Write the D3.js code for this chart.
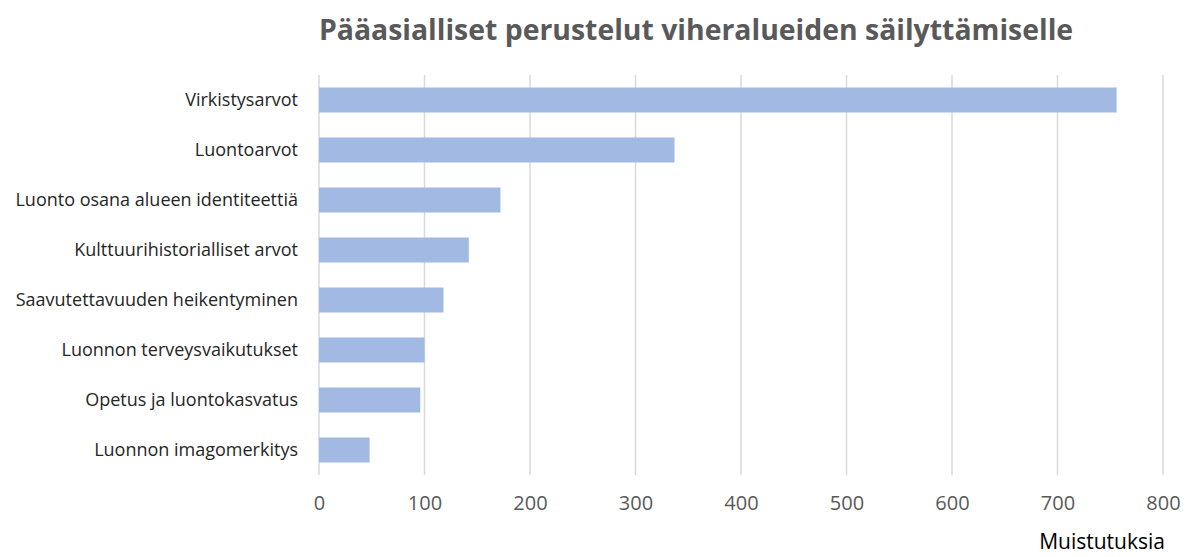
<!DOCTYPE html>
<html lang="fi">
<head>
    <meta charset="utf-8">
    <script src="https://d3js.org/d3.v7.min.js"></script>
    <style>
        body { margin: 0; background: #fff; }
        text { font-family: "Open Sans", sans-serif; }
        .title { font-weight: bold; fill: #595959; }
        .cat text { fill: #262626; }
        .xaxis text { fill: #595959; }
        .grid line { stroke: #d9d9d9; stroke-width: 1.5; }
    </style>
</head>
<body>
<div id="chart"></div>
<script>
    var categories = [
        "Virkistysarvot",
        "Luontoarvot",
        "Luonto osana alueen identiteettiä",
        "Kulttuurihistorialliset arvot",
        "Saavutettavuuden heikentyminen",
        "Luonnon terveysvaikutukset",
        "Opetus ja luontokasvatus",
        "Luonnon imagomerkitys"
    ];
    var counts = [756, 337, 172, 142, 118, 100, 96, 48];
    var xTicks = [0, 100, 200, 300, 400, 500, 600, 700, 800];
    var titleText = "Pääasialliset perustelut viheralueiden säilyttämiselle";
    var xTitle = "Muistutuksia";

    var w = 1186;
    var h = 557;
    var plotLeft = 319, plotRight = 1163, plotTop = 75, plotBottom = 475;

    var svg = d3.select("#chart")
        .append("svg")
        .attr("width", w)
        .attr("height", h);

    var xScale = d3.scaleLinear()
        .domain([0, 800])
        .range([plotLeft, plotRight]);

    var yScale = d3.scaleBand()
        .domain(categories)
        .range([plotTop, plotBottom])
        .paddingInner(0.5)
        .paddingOuter(0.25);

    // vertical gridlines
    svg.append("g")
        .attr("class", "grid")
        .selectAll("line")
        .data(xTicks)
        .enter()
        .append("line")
        .attr("x1", d => xScale(d))
        .attr("x2", d => xScale(d))
        .attr("y1", plotTop)
        .attr("y2", plotBottom);

    svg.selectAll("rect.bar")
        .data(counts)
        .enter()
        .append("rect")
        .attr("class", "bar")
        .attr("x", xScale(0))
        .attr("y", (d, i) => yScale(categories[i]))
        .attr("width", d => xScale(d) - xScale(0))
        .attr("height", yScale.bandwidth())
        .attr("fill", "#a2bae3");

    // category labels
    var yAxis = svg.append("g")
        .attr("class", "cat")
        .attr("transform", `translate(${plotLeft}, 0)`)
        .call(d3.axisLeft(yScale).tickSize(0).tickPadding(21));
    yAxis.select(".domain").remove();
    yAxis.selectAll("text").style("font-size", "18px");

    // x tick labels
    var xAxis = svg.append("g")
        .attr("class", "xaxis")
        .attr("transform", `translate(0, ${plotBottom})`)
        .call(d3.axisBottom(xScale).tickValues(xTicks).tickSize(0).tickPadding(21));
    xAxis.select(".domain").remove();
    xAxis.selectAll("text").style("font-size", "20px");

    svg.append("text")
        .attr("class", "title")
        .attr("x", 696)
        .attr("y", 40)
        .attr("text-anchor", "middle")
        .style("font-size", "28.4px")
        .text(titleText);

    svg.append("text")
        .attr("x", 1165)
        .attr("y", 549)
        .attr("text-anchor", "end")
        .style("font-size", "21px")
        .style("fill", "#000")
        .text(xTitle);
</script>
</body>
</html>
